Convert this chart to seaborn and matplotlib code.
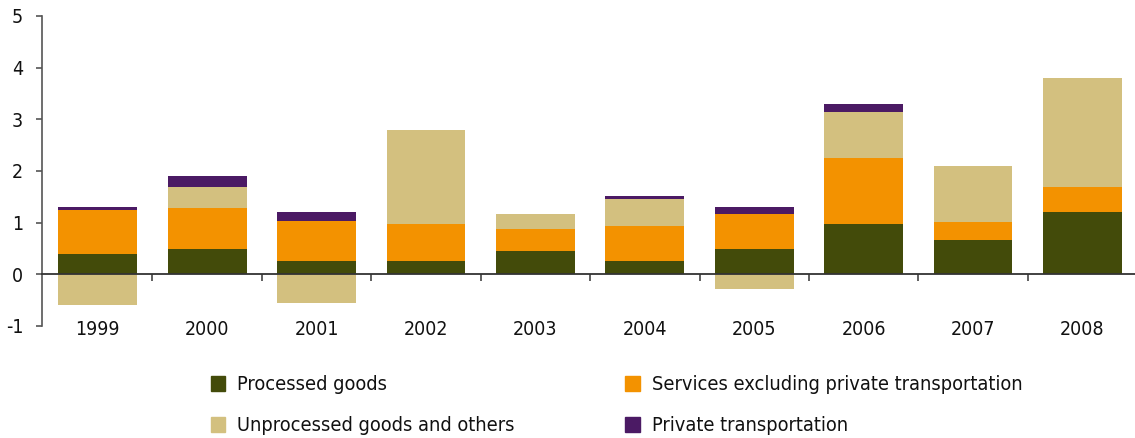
import numpy as np
import pandas as pd
import matplotlib
matplotlib.use("Agg")
import matplotlib.pyplot as plt
from matplotlib.patches import Patch
import seaborn as sns

years = ["1999", "2000", "2001", "2002", "2003", "2004", "2005", "2006", "2007", "2008"]
processed = [0.39, 0.48, 0.25, 0.25, 0.445, 0.25, 0.48, 0.97, 0.66, 1.20]
services = [0.85, 0.80, 0.79, 0.72, 0.425, 0.68, 0.68, 1.29, 0.35, 0.48]
unprocessed = [-0.59, 0.40, -0.555, 1.83, 0.29, 0.52, -0.29, 0.89, 1.08, 2.11]
private = [0.06, 0.23, 0.16, 0.0, 0.0, 0.06, 0.14, 0.14, 0.0, 0.0]

series_names = ["Processed goods", "Services excluding private transportation",
                "Unprocessed goods and others", "Private transportation"]
series_vals = [processed, services, unprocessed, private]
colors = ["#434B0A", "#F39200", "#D3C07F", "#4B1A64"]

sns.set_theme(style="white")
plt.rcParams['font.family'] = ['DejaVu Sans']
plt.rcParams['font.stretch'] = 'condensed'
plt.rcParams['text.color'] = '#111111'
plt.rcParams['xtick.color'] = '#111111'
plt.rcParams['ytick.color'] = '#111111'

fig = plt.figure(figsize=(11.35, 4.38), dpi=100)
ax = fig.add_axes([0.037, 0.256, 0.963, 0.7075])

pos_bottom = np.zeros(len(years))
neg_bottom = np.zeros(len(years))
for name, vals, col in zip(series_names, series_vals, colors):
    v = np.array(vals, dtype=float)
    bottom = np.where(v >= 0, pos_bottom, neg_bottom)
    df = pd.DataFrame({"year": years, "value": v})
    sns.barplot(data=df, x="year", y="value", color=col, width=0.72,
                bottom=bottom, ax=ax, saturation=1, linewidth=0, errorbar=None)
    pos_bottom = pos_bottom + np.where(v > 0, v, 0)
    neg_bottom = neg_bottom + np.where(v < 0, v, 0)

ax.set_xlim(-0.51, 9.48)
ax.set_ylim(-1, 5)
ax.set_yticks(range(-1, 6))
ax.set_yticklabels([str(i) for i in range(-1, 6)], fontsize=14)
ax.set_xlabel("")
ax.set_ylabel("")

for s in ["top", "right"]:
    ax.spines[s].set_visible(False)
ax.spines["bottom"].set_position(("data", 0))
ax.spines["bottom"].set_color("#333333")
ax.spines["bottom"].set_linewidth(1.3)
ax.spines["left"].set_color("#555555")
ax.spines["left"].set_linewidth(1.2)

ax.set_xticks(range(len(years)))
ax.set_xticklabels(years, fontsize=14)
ax.tick_params(axis="x", which="major", length=0, pad=33)
ax.set_xticks(np.arange(0.5, 9.0, 1.0), minor=True)
ax.tick_params(axis="x", which="minor", bottom=True, length=5, width=1.2,
               color="#444444", direction="out")
ax.tick_params(axis="y", length=4.5, width=1.2, color="#555555", direction="out",
               pad=9, left=True)

handles = [Patch(color=colors[0], label=series_names[0]),
           Patch(color=colors[2], label=series_names[2]),
           Patch(color=colors[1], label=series_names[1]),
           Patch(color=colors[3], label=series_names[3])]
fig.legend(handles=handles, ncol=2, loc="upper left", bbox_to_anchor=(0.1855, 0.143),
           frameon=False, fontsize=14.3, handlelength=0.75, handleheight=0.75,
           handletextpad=0.6, columnspacing=5.55, labelspacing=1.1, borderaxespad=0,
           borderpad=0)

fig.savefig("out.png", dpi=100)
